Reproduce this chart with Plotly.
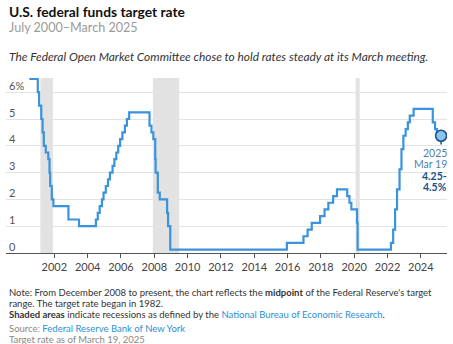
import plotly.graph_objects as go

# Federal funds target rate (midpoint of range from Dec 2008 onward)
change_dates = [
    "2000-07-01", "2001-01-03", "2001-01-31", "2001-03-20", "2001-04-18", "2001-05-15",
    "2001-06-27", "2001-08-21", "2001-09-17", "2001-10-02", "2001-11-06", "2001-12-11",
    "2002-11-06", "2003-06-25", "2004-06-30", "2004-08-10", "2004-09-21", "2004-11-10",
    "2004-12-14", "2005-02-02", "2005-03-22", "2005-05-03", "2005-06-30", "2005-08-09",
    "2005-09-20", "2005-11-01", "2005-12-13", "2006-01-31", "2006-03-28", "2006-05-10",
    "2006-06-29", "2007-09-18", "2007-10-31", "2007-12-11", "2008-01-22", "2008-01-30",
    "2008-03-18", "2008-04-30", "2008-10-08", "2008-10-29", "2008-12-16", "2015-12-16",
    "2016-12-14", "2017-03-15", "2017-06-14", "2017-12-13", "2018-03-21", "2018-06-13",
    "2018-09-26", "2018-12-19", "2019-07-31", "2019-09-18", "2019-10-30", "2020-03-03",
    "2020-03-15", "2022-03-16", "2022-05-04", "2022-06-15", "2022-07-27", "2022-09-21",
    "2022-11-02", "2022-12-14", "2023-02-01", "2023-03-22", "2023-05-03", "2023-07-26",
    "2024-09-18", "2024-11-07", "2024-12-18", "2025-03-19",
]
target_rate = [
    6.50, 6.00, 5.50, 5.00, 4.50, 4.00,
    3.75, 3.50, 3.00, 2.50, 2.00, 1.75,
    1.25, 1.00, 1.25, 1.50, 1.75, 2.00,
    2.25, 2.50, 2.75, 3.00, 3.25, 3.50,
    3.75, 4.00, 4.25, 4.50, 4.75, 5.00,
    5.25, 4.75, 4.50, 4.25, 3.50, 3.00,
    2.25, 2.00, 1.50, 1.00, 0.125, 0.375,
    0.625, 0.875, 1.125, 1.375, 1.625, 1.875,
    2.125, 2.375, 2.125, 1.875, 1.625, 1.125,
    0.125, 0.375, 0.875, 1.625, 2.375, 3.125,
    3.875, 4.375, 4.625, 4.875, 5.125, 5.375,
    4.875, 4.625, 4.375, 4.375,
]

# NBER recessions
recession_start = ["2001-03-01", "2007-12-01", "2020-02-01"]
recession_end = ["2001-11-30", "2009-06-30", "2020-04-30"]

y_ticks = [0, 1, 2, 3, 4, 5, 6]
y_tick_text = ["0", "1", "2", "3", "4", "5", "6%"]
x_tick_years = [2002, 2004, 2006, 2008, 2010, 2012, 2014, 2016, 2018, 2020, 2022, 2024]

end_label = ["2025", "Mar 19", "<b>4.25-</b>", "<b>4.5%</b>"]

W, H = 453, 344
L, R, T, B = 6, 6, 78, 91
PLOT_W = W - L - R
PLOT_H = H - T - B

FONT = "Lato, 'Open Sans', sans-serif"
LINE_BLUE = "#3a93dc"
DARK_BLUE = "#1c4f86"


def px_x(x):
    return (x - L) / PLOT_W


def px_y(y):
    return (H - B - y) / PLOT_H


fig = go.Figure()

fig.add_trace(go.Scatter(
    x=change_dates, y=target_rate, mode="lines",
    line=dict(color=LINE_BLUE, width=2.2, shape="hv"),
    hoverinfo="skip", showlegend=False,
))

# stem under the latest-value marker
last_x, last_y = change_dates[-1], target_rate[-1]
fig.add_trace(go.Scatter(
    x=[last_x, last_x], y=[last_y - 0.15, last_y - 0.33], mode="lines",
    line=dict(color=DARK_BLUE, width=1.5), hoverinfo="skip", showlegend=False,
))
fig.add_trace(go.Scatter(
    x=[last_x], y=[last_y], mode="markers",
    marker=dict(size=11, color="#8cc4ee", line=dict(color=DARK_BLUE, width=1.6)),
    hoverinfo="skip", showlegend=False,
))

for s, e in zip(recession_start, recession_end):
    fig.add_shape(type="rect", xref="x", yref="paper", x0=s, x1=e, y0=0, y1=1,
                  fillcolor="#e2e2e2", line_width=0, layer="below")

annotations = []
# header
annotations.append(dict(text="<b>U.S. federal funds target rate</b>", x=px_x(7), y=px_y(11),
                        font=dict(size=13.8, color="#111111")))
annotations.append(dict(text="July 2000–March 2025", x=px_x(7), y=px_y(27),
                        font=dict(size=12.6, color="#9a9a9a")))
annotations.append(dict(text="<i>The Federal Open Market Committee chose to hold rates steady at its March meeting.</i>",
                        x=px_x(7), y=px_y(57), font=dict(size=11.9, color="#333333")))

# y-axis labels sit just above their gridlines
for v, t in zip(y_ticks, y_tick_text):
    annotations.append(dict(text=t, x=px_x(7), y=v, yref="y", yshift=7,
                            font=dict(size=11, color="#555555")))

# latest value label
for i, t in enumerate(end_label):
    color = "#4f7fae" if i < 2 else DARK_BLUE
    annotations.append(dict(text=t, x=px_x(449), y=px_y(153 + i * 11.4), xanchor="right",
                            font=dict(size=10.5, color=color)))

# footer
foot = [
    ("Note: From December 2008 to present, the chart reflects the <b>midpoint</b> of the Federal Reserve's target", 292.5),
    ("range. The target rate began in 1982.", 303.5),
    ("<b>Shaded areas</b> indicate recessions as defined by the "
     "<span style='color:#2a8fd6'>National Bureau of Economic Research</span>.", 314.5),
]
for t, yy in foot:
    annotations.append(dict(text=t, x=px_x(7), y=px_y(yy), font=dict(size=9.5, color="#333333")))
annotations.append(dict(text="Source: <span style='color:#2a8fd6'>Federal Reserve Bank of New York</span>",
                        x=px_x(7), y=px_y(328), font=dict(size=9.5, color="#888888")))
annotations.append(dict(text="Target rate as of March 19, 2025", x=px_x(7), y=px_y(339),
                        font=dict(size=9.5, color="#888888")))

for a in annotations:
    a.setdefault("xanchor", "left")
    a.setdefault("yref", "paper")
    a.update(xref="paper", yanchor="middle", showarrow=False, align="left")

fig.update_layout(
    width=W, height=H,
    margin=dict(l=L, r=R, t=T, b=B, pad=0),
    paper_bgcolor="white", plot_bgcolor="white",
    font=dict(family=FONT, color="#444444"),
    annotations=annotations,
    xaxis=dict(
        type="date", range=["1999-02-06", "2025-07-27"],
        tickvals=[f"{y}-01-01" for y in x_tick_years],
        ticktext=[str(y) for y in x_tick_years],
        showgrid=False, zeroline=False,
        showline=True, linecolor="#555555", linewidth=1,
        ticks="outside", ticklen=4, tickcolor="#555555", tickwidth=1,
        tickfont=dict(size=11, color="#444444"),
        fixedrange=True,
    ),
    yaxis=dict(
        range=[0, 6.53],
        tickvals=y_ticks, showticklabels=False,
        showgrid=True, gridcolor="#e3e3e3", gridwidth=1,
        zeroline=False, showline=False, ticks="",
        fixedrange=True,
    ),
    showlegend=False,
)

fig.write_html("out.html", config={"displayModeBar": False})
